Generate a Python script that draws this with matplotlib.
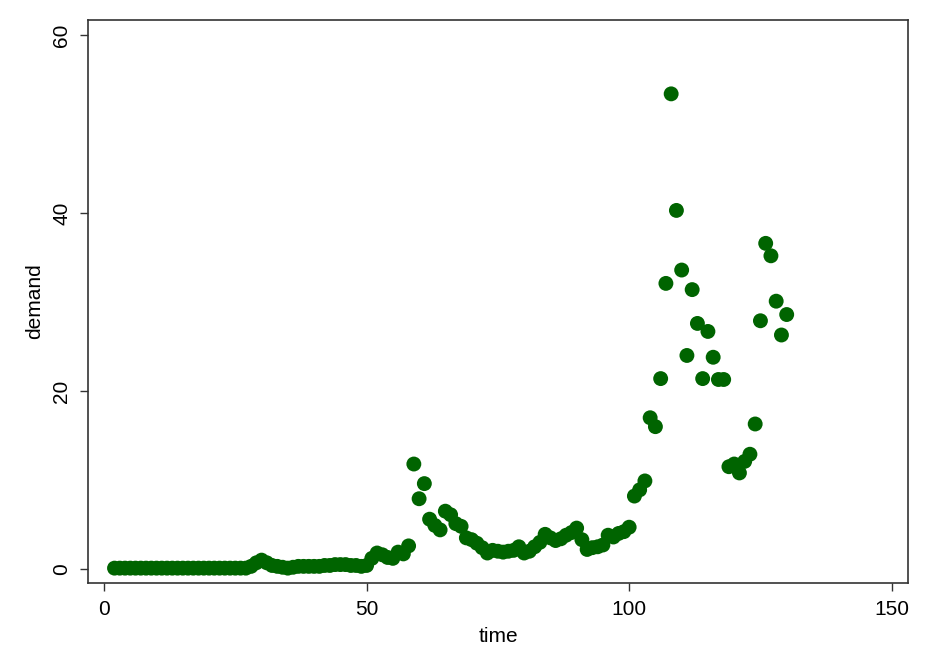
import matplotlib
matplotlib.use('Agg')
import matplotlib.pyplot as plt
import numpy as np

# time 2..130, demand
time = np.arange(2, 131)
demand = [
    0.1, 0.1, 0.1, 0.1, 0.1, 0.1, 0.1, 0.1, 0.1, 0.1,      # 2-11
    0.1, 0.1, 0.1, 0.1, 0.1, 0.1, 0.1, 0.1, 0.1, 0.1,      # 12-21
    0.1, 0.1, 0.1, 0.1, 0.1, 0.1, 0.3, 0.7, 1.0, 0.7,      # 22-31
    0.4, 0.3, 0.2, 0.1, 0.2, 0.3, 0.3, 0.3, 0.3, 0.3,      # 32-41
    0.4, 0.4, 0.5, 0.5, 0.5, 0.4, 0.4, 0.3, 0.4, 1.2,      # 42-51
    1.8, 1.6, 1.3, 1.2, 1.9, 1.7, 2.6, 11.8, 7.9, 9.6,     # 52-61
    5.6, 4.9, 4.4, 6.5, 6.1, 5.1, 4.8, 3.5, 3.3, 2.9,      # 62-71
    2.4, 1.8, 2.1, 2.0, 1.9, 2.0, 2.1, 2.5, 1.8, 2.0,      # 72-81
    2.5, 3.0, 3.9, 3.5, 3.2, 3.4, 3.8, 4.1, 4.6, 3.3,      # 82-91
    2.2, 2.4, 2.5, 2.7, 3.8, 3.6, 4.0, 4.2, 4.7, 8.2,      # 92-101
    8.9, 9.9, 17.0, 16.0, 21.4, 32.1, 53.4, 40.3, 33.6, 24.0,  # 102-111
    31.4, 27.6, 21.4, 26.7, 23.8, 21.3, 21.3, 11.5, 11.8, 10.8,  # 112-121
    12.1, 12.9, 16.3, 27.9, 36.6, 35.2, 30.1, 26.3, 28.6,   # 122-130
]

xticks = [0, 50, 100, 150]
yticks = [0, 20, 40, 60]

plt.rcParams['font.family'] = ['Liberation Sans', 'DejaVu Sans']

fig = plt.figure(figsize=(9.28, 6.62), dpi=100)
ax = fig.add_axes([88/928, 1 - 583/662, 820/928, 563/662])

ax.scatter(time, demand, s=115, color='#006400', edgecolors='none', zorder=3)

ax.set_xlim(-3.05, 153.1)
ax.set_ylim(-1.57, 61.7)
ax.set_xticks(xticks)
ax.set_yticks(yticks)
ax.set_xticklabels([str(v) for v in xticks], fontsize=15)
ax.set_yticklabels([str(v) for v in yticks], fontsize=15, rotation=90, va='center')
ax.tick_params(direction='out', length=6, width=1, color='#333333', pad=6)
for sp in ax.spines.values():
    sp.set_color('#333333')
    sp.set_linewidth(1.2)

ax.set_xlabel('time', fontsize=15, labelpad=6)
ax.set_ylabel('demand', fontsize=15, labelpad=6)

fig.savefig('out.png', dpi=100)
